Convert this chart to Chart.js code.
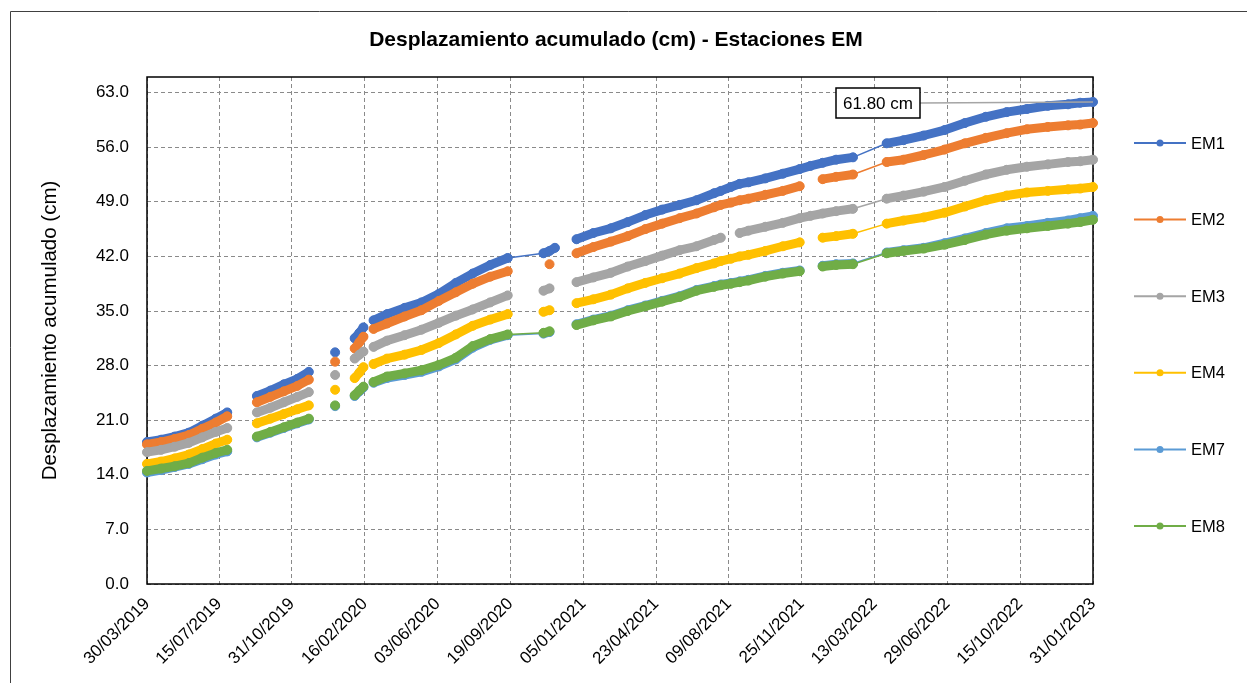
<!DOCTYPE html>
<html>
<head>
<meta charset="utf-8">
<title>Desplazamiento acumulado - Estaciones EM</title>
<script src="https://cdn.jsdelivr.net/npm/chart.js@4.4.0/dist/chart.umd.min.js"></script>
<style>
  html, body { margin: 0; padding: 0; background: #fff; }
</style>
</head>
<body>
<canvas id="myChart" width="1247" height="683"></canvas>
<script>
// null = no reading, line is broken ; _ = no reading, line keeps going
const _ = undefined;

const chartTitle = 'Desplazamiento acumulado (cm) - Estaciones EM';
const yTitle = 'Desplazamiento acumulado (cm)';
const lastLabel = '61.80 cm';

const dates = [
  '30/03/2019', '20/04/2019', '10/05/2019', '31/05/2019', '20/06/2019', '10/07/2019', '27/07/2019', '15/08/2019',
  '09/09/2019', '29/09/2019', '19/10/2019', '08/11/2019', '25/11/2019', '15/12/2019',
  '03/01/2020', '14/01/2020',
  '01/02/2020', '08/02/2020', '14/02/2020', '21/02/2020',
  '29/02/2020', '20/03/2020', '15/04/2020', '10/05/2020', '05/06/2020', '30/06/2020', '25/07/2020', '20/08/2020', '15/09/2020', '15/10/2020',
  '07/11/2020', '16/11/2020', '24/11/2020', '10/12/2020',
  '26/12/2020', '20/01/2021', '15/02/2021', '12/03/2021', '07/04/2021', '02/05/2021', '28/05/2021', '22/06/2021', '18/07/2021', '28/07/2021',
  '12/08/2021', '25/08/2021', '07/09/2021', '02/10/2021', '28/10/2021', '22/11/2021', '08/12/2021', '26/12/2021', '15/01/2022', '09/02/2022',
  '31/03/2022', '25/04/2022', '25/05/2022', '25/06/2022', '25/07/2022', '25/08/2022', '25/09/2022', '25/10/2022', '25/11/2022', '25/12/2022', '12/01/2023', '31/01/2023'
];

const em1 = [
  18.2, 18.5, 18.9, 19.4, 20.3, 21.2, 22.0, null,
  24.1, 24.8, 25.6, 26.3, 27.2, null,
  29.7, null,
  31.5, 32.2, 32.9, null,
  33.8, 34.6, 35.4, 36.1, 37.2, 38.6, 39.8, 40.9, 41.8, _,
  42.4, 42.7, 43.1, null,
  44.2, 45.0, 45.6, 46.4, 47.3, 48.0, 48.6, 49.2, 50.1, 50.4,
  50.9, 51.3, 51.5, 52.0, 52.6, 53.2, 53.6, 54.0, 54.4, 54.7,
  56.5, 56.9, 57.5, 58.2, 59.1, 59.9, 60.5, 60.9, 61.3, 61.5, 61.7, 61.8
];
const em2 = [
  17.9, 18.2, 18.6, 19.1, 19.9, 20.7, 21.5, null,
  23.3, 24.0, 24.7, 25.4, 26.2, null,
  28.5, null,
  30.2, 31.0, 31.7, null,
  32.7, 33.4, 34.3, 35.1, 36.3, 37.4, 38.5, 39.4, 40.1, null,
  null, 41.0, null, null,
  42.4, 43.2, 43.9, 44.6, 45.5, 46.2, 46.9, 47.5, 48.3, 48.6,
  48.9, 49.2, 49.4, 49.9, 50.4, 51.0, null, 51.9, 52.2, 52.5,
  54.1, 54.4, 55.0, 55.7, 56.5, 57.2, 57.8, 58.3, 58.6, 58.8, 58.9, 59.1
];
const em3 = [
  16.9, 17.2, 17.6, 18.1, 18.8, 19.5, 20.0, null,
  22.0, 22.6, 23.3, 24.0, 24.6, null,
  26.8, null,
  28.9, 29.4, 29.8, null,
  30.4, 31.2, 31.9, 32.6, 33.5, 34.4, 35.2, 36.1, 37.0, null,
  37.6, 37.9, null, null,
  38.7, 39.3, 39.9, 40.7, 41.4, 42.1, 42.8, 43.3, 44.1, 44.4,
  null, 45.0, 45.3, 45.8, 46.3, 46.9, 47.2, 47.5, 47.8, 48.1,
  49.4, 49.8, 50.3, 50.9, 51.7, 52.5, 53.1, 53.5, 53.8, 54.1, 54.2, 54.4
];
const em4 = [
  15.4, 15.7, 16.1, 16.6, 17.3, 18.0, 18.5, null,
  20.6, 21.2, 21.8, 22.4, 22.9, null,
  24.9, null,
  26.4, 27.1, 27.8, null,
  28.2, 28.9, 29.4, 30.0, 30.9, 32.0, 33.1, 33.9, 34.6, null,
  34.9, 35.1, null, null,
  36.0, 36.5, 37.1, 37.9, 38.6, 39.2, 39.8, 40.5, 41.1, 41.4,
  41.7, 42.0, 42.2, 42.7, 43.3, 43.8, null, 44.4, 44.6, 44.9,
  46.2, 46.6, 47.0, 47.6, 48.4, 49.2, 49.8, 50.2, 50.4, 50.6, 50.7, 50.9
];
const em7 = [
  14.3, 14.6, 15.0, 15.4, 16.0, 16.6, 17.0, null,
  18.8, 19.4, 20.0, 20.6, 21.1, null,
  22.8, null,
  24.1, 24.7, 25.2, null,
  25.8, 26.4, 26.8, 27.2, 27.9, 28.8, 30.3, 31.3, 31.9, _,
  32.1, 32.3, null, null,
  33.3, 33.9, 34.4, 35.1, 35.7, 36.3, 36.9, 37.7, 38.2, 38.4,
  38.6, 38.8, 39.0, 39.5, 39.9, 40.2, null, 40.8, 41.0, 41.1,
  42.5, 42.8, 43.1, 43.7, 44.3, 45.0, 45.6, 45.9, 46.3, 46.6, 46.9, 47.2
];
const em8 = [
  14.5, 14.8, 15.1, 15.5, 16.2, 16.8, 17.2, null,
  18.9, 19.5, 20.1, 20.7, 21.2, null,
  22.9, null,
  24.2, 24.8, 25.3, null,
  25.9, 26.6, 27.0, 27.4, 28.1, 29.0, 30.5, 31.4, 32.0, _,
  32.2, 32.4, null, null,
  33.2, 33.8, 34.3, 35.0, 35.6, 36.2, 36.8, 37.6, 38.1, 38.3,
  38.5, 38.7, 38.9, 39.4, 39.8, 40.1, null, 40.7, 40.9, 41.0,
  42.4, 42.7, 43.0, 43.5, 44.1, 44.8, 45.3, 45.6, 45.9, 46.2, 46.4, 46.7
];

const seriesNames = ['EM1', 'EM2', 'EM3', 'EM4', 'EM7', 'EM8'];
const seriesValues = [em1, em2, em3, em4, em7, em8];
const seriesColors = ['#4472C4', '#ED7D31', '#A5A5A5', '#FFC000', '#5B9BD5', '#70AD47'];

const xTickLabels = [
  '30/03/2019', '15/07/2019', '31/10/2019', '16/02/2020', '03/06/2020', '19/09/2020', '05/01/2021',
  '23/04/2021', '09/08/2021', '25/11/2021', '13/03/2022', '29/06/2022', '15/10/2022', '31/01/2023'
];
const yTickValues = [0, 7, 14, 21, 28, 35, 42, 49, 56, 63];

// dd/mm/yyyy -> day number
function day(s) {
  const [d, m, y] = s.split('/').map(Number);
  return Date.UTC(y, m - 1, d) / 864e5;
}

const FONT = '"Liberation Sans", Arial, sans-serif';
Chart.defaults.font.family = FONT;
Chart.defaults.color = '#000';

const extras = {
  id: 'extras',
  beforeDatasetsDraw(chart) {
    const { ctx, chartArea: a } = chart;
    ctx.save();
    ctx.strokeStyle = '#000';
    ctx.lineWidth = 1.5;
    ctx.strokeRect(a.left, a.top, a.right - a.left, a.bottom - a.top);
    ctx.restore();
  },
  afterDraw(chart) {
    const { ctx } = chart;
    ctx.save();
    // outer frame
    ctx.strokeStyle = '#404040';
    ctx.lineWidth = 1;
    ctx.beginPath();
    ctx.moveTo(10.5, 683);
    ctx.lineTo(10.5, 11.5);
    ctx.lineTo(1247, 11.5);
    ctx.stroke();

    // title
    ctx.fillStyle = '#000';
    ctx.font = 'bold 21px ' + FONT;
    ctx.textAlign = 'center';
    ctx.textBaseline = 'middle';
    ctx.fillText(chartTitle, 616, 40);

    // legend
    ctx.font = '16.5px ' + FONT;
    ctx.textAlign = 'left';
    seriesNames.forEach((name, i) => {
      const y = 143 + i * 76.6;
      ctx.strokeStyle = seriesColors[i];
      ctx.lineWidth = 2;
      ctx.beginPath();
      ctx.moveTo(1134, y);
      ctx.lineTo(1186, y);
      ctx.stroke();
      ctx.fillStyle = seriesColors[i];
      ctx.beginPath();
      ctx.arc(1160, y, 3.5, 0, Math.PI * 2);
      ctx.fill();
      ctx.fillStyle = '#000';
      ctx.fillText(name, 1191, y + 1);
    });

    // label of the last EM1 reading
    const meta = chart.getDatasetMeta(0);
    const pt = meta.data[meta.data.length - 1];
    ctx.strokeStyle = '#A5A5A5';
    ctx.lineWidth = 1.5;
    ctx.beginPath();
    ctx.moveTo(920, 103);
    ctx.lineTo(pt.x, pt.y);
    ctx.stroke();
    ctx.fillStyle = '#fff';
    ctx.fillRect(836, 88, 84, 30);
    ctx.strokeStyle = '#000';
    ctx.lineWidth = 1.5;
    ctx.strokeRect(836, 88, 84, 30);
    ctx.fillStyle = '#000';
    ctx.font = '17px ' + FONT;
    ctx.textAlign = 'center';
    ctx.fillText(lastLabel, 878, 104);
    ctx.restore();
  }
};

const gridStyle = { color: '#8a8a8a', lineWidth: 1, drawTicks: false };
const borderStyle = { display: false, dash: [4, 3] };

const ctx = document.getElementById('myChart');
new Chart(ctx, {
  type: 'line',
  data: {
    datasets: seriesNames.map((name, i) => ({
      label: name,
      data: dates
        .map((d, k) => ({ x: day(d), y: seriesValues[i][k] }))
        .filter(p => p.y !== undefined),
      borderColor: seriesColors[i],
      backgroundColor: seriesColors[i],
      borderWidth: 9,
      borderCapStyle: 'round',
      borderJoinStyle: 'round',
      pointRadius: 4.5,
      pointBorderWidth: 1,
      pointHoverRadius: 4.5,
      spanGaps: false,
      clip: 8,
      order: seriesNames.length - 1 - i,
      // long jumps between readings are drawn as a thin line
      segment: {
        borderWidth: c => (c.p1.parsed.x - c.p0.parsed.x > 35 ? 1.5 : 9)
      }
    }))
  },
  options: {
    responsive: false,
    devicePixelRatio: 1,
    animation: false,
    events: [],
    layout: { padding: { top: 77, right: 154, bottom: 0, left: 0 } },
    plugins: {
      legend: { display: false },
      title: { display: false },
      tooltip: { enabled: false }
    },
    scales: {
      x: {
        type: 'linear',
        min: day(xTickLabels[0]),
        max: day(xTickLabels[xTickLabels.length - 1]),
        afterBuildTicks: s => { s.ticks = xTickLabels.map(l => ({ value: day(l) })); },
        afterFit: s => { s.height = 99; s.paddingLeft = 0; s.paddingRight = 0; },
        ticks: {
          autoSkip: false,
          maxRotation: 45,
          minRotation: 45,
          padding: 10,
          font: { size: 17 },
          color: '#000',
          callback: (v, i) => xTickLabels[i]
        },
        grid: gridStyle,
        border: borderStyle
      },
      y: {
        min: 0,
        max: 65,
        afterBuildTicks: s => { s.ticks = yTickValues.map(v => ({ value: v })); },
        afterFit: s => { s.width = 147; },
        ticks: {
          padding: 18,
          font: { size: 17 },
          color: '#000',
          callback: v => v.toFixed(1)
        },
        grid: gridStyle,
        border: borderStyle,
        title: {
          display: true,
          text: yTitle,
          font: { size: 20.5 },
          color: '#000',
          padding: { top: 38, bottom: 0 }
        }
      }
    }
  },
  plugins: [extras]
});
</script>
</body>
</html>
